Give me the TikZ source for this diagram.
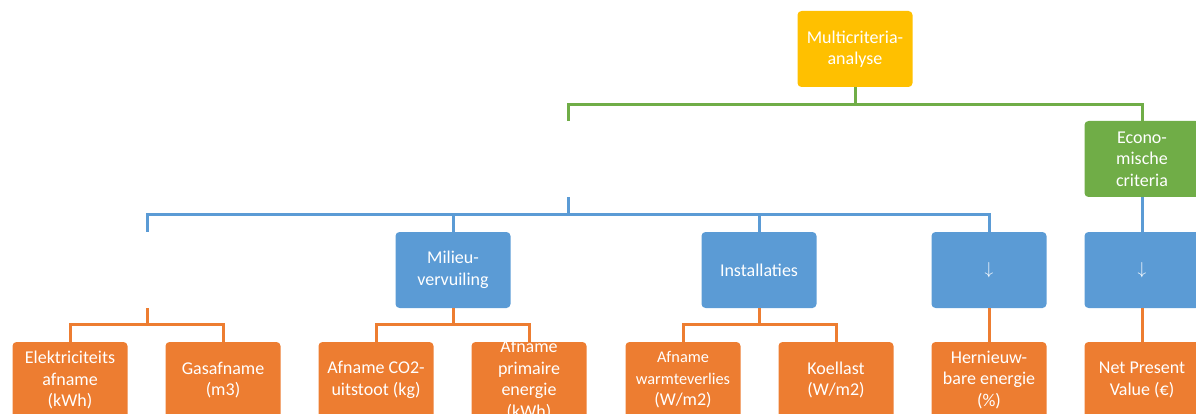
\documentclass[tikz,border=0pt]{standalone}
\usepackage{fontspec}
\setmainfont{Carlito}
\definecolor{mcayellow}{HTML}{FFC000}
\definecolor{mcagreen}{HTML}{70AD47}
\definecolor{mcablue}{HTML}{5B9BD5}
\definecolor{mcaorange}{HTML}{ED7D31}
\tikzset{
  crit/.style={rectangle, rounded corners=4pt, minimum width=115pt,
    minimum height=76pt, inner sep=0pt, align=center, text=white,
    font=\fontsize{18}{21.5}\selectfont},
  blank/.style={crit, fill=none},
  link/.style={line width=3pt},
}
\newcommand{\smalltxt}{\fontsize{16.3}{19.5}\selectfont}
\begin{document}
\begin{tikzpicture}[x=1pt, y=-1pt]
  \useasboundingbox (0,0) rectangle (1196,414);
  \clip (0,0) rectangle (1196,414);
  % top and first level
  \node[crit, fill=mcayellow] (mca) at (855,49) {Multicriteria-\\analyse};
  \node[blank] (tech) at (568,159) {};
  \node[crit, fill=mcagreen] (econ) at (1142,159) {Econo-\\mische\\criteria};
  % second level
  \node[blank] (energie) at (147,270) {};
  \node[crit, fill=mcablue] (milieu) at (453,270) {Milieu-\\vervuiling};
  \node[crit, fill=mcablue] (install) at (759,270) {Installaties};
  \node[crit, fill=mcablue] (duurz) at (989,270) {$\downarrow$};
  \node[crit, fill=mcablue] (kosten) at (1142,270) {$\downarrow$};
  % criteria
  \node[crit, fill=mcaorange] (elek) at (70,380) {Elektriciteits\\afname\\(kWh)};
  \node[crit, fill=mcaorange] (gas) at (223,380) {Gasafname\\(m3)};
  \node[crit, fill=mcaorange] (co2) at (376,380) {Afname CO2-\\uitstoot (kg)};
  \node[crit, fill=mcaorange, inner ysep=-3pt] (prim) at (529,380)
    {Afname\\primaire\\energie\\(kWh)};
  \node[crit, fill=mcaorange] (warmte) at (683,380)
    {{\smalltxt Afname}\\{\smalltxt warmteverlies}\\(W/m2)};
  \node[crit, fill=mcaorange] (koel) at (836,380) {Koellast\\(W/m2)};
  \node[crit, fill=mcaorange] (hern) at (989,380) {Hernieuw-\\bare energie\\(\%)};
  \node[crit, fill=mcaorange] (npv) at (1142,380) {Net Present\\Value (€)};
  \begin{scope}[link, draw=mcagreen]
    \draw (mca.south) -- ++(0,17) -| (tech.north);
    \draw (mca.south) -- ++(0,17) -| (econ.north);
  \end{scope}
  \begin{scope}[link, draw=mcablue]
    \draw (tech.south) -- ++(0,17) -| (energie.north);
    \draw (tech.south) -- ++(0,17) -| (milieu.north);
    \draw (tech.south) -- ++(0,17) -| (install.north);
    \draw (tech.south) -- ++(0,17) -| (duurz.north);
    \draw (econ.south) -- (kosten.north);
  \end{scope}
  \begin{scope}[link, draw=mcaorange]
    \draw (energie.south) -- ++(0,16) -| (elek.north);
    \draw (energie.south) -- ++(0,16) -| (gas.north);
    \draw (milieu.south) -- ++(0,16) -| (co2.north);
    \draw (milieu.south) -- ++(0,16) -| (prim.north);
    \draw (install.south) -- ++(0,16) -| (warmte.north);
    \draw (install.south) -- ++(0,16) -| (koel.north);
    \draw (duurz.south) -- (hern.north);
    \draw (kosten.south) -- (npv.north);
  \end{scope}
\end{tikzpicture}
\end{document}
